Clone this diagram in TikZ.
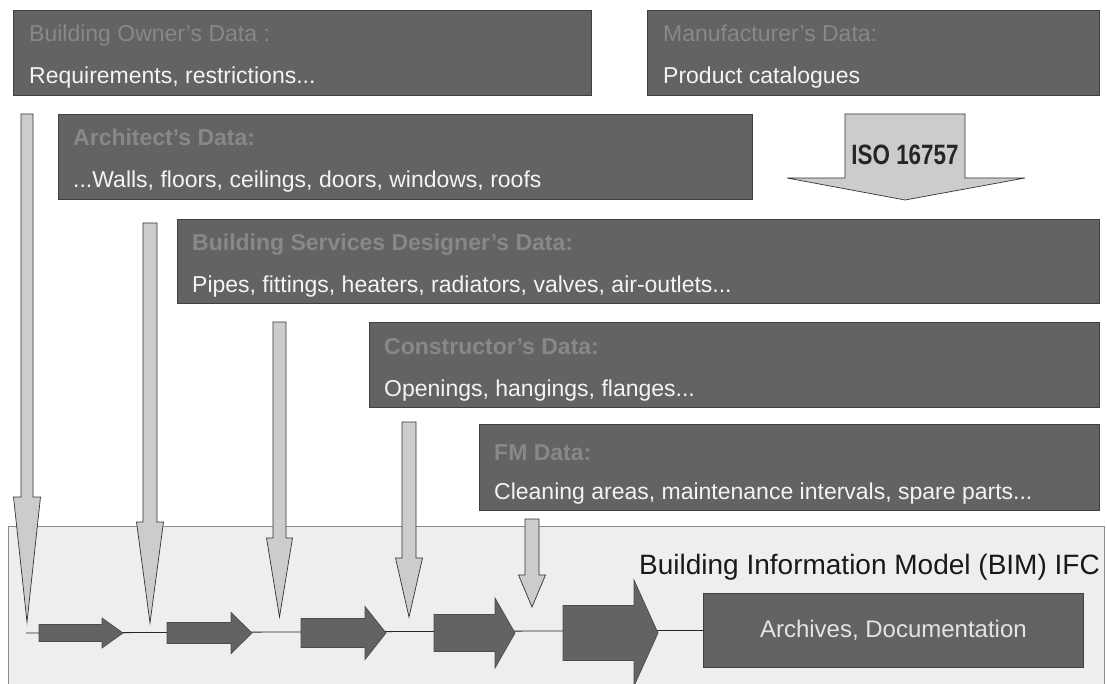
\documentclass[tikz,border=0pt]{standalone}
\usepackage{fontspec}
\setmainfont{Liberation Sans}
\usetikzlibrary{calc}
\definecolor{boxfill}{HTML}{636363}
\definecolor{titlegray}{HTML}{888888}
\definecolor{subwhite}{HTML}{F4F4F4}
\definecolor{arrfill}{HTML}{CCCCCC}
\definecolor{bimfill}{HTML}{EEEEEE}
\definecolor{archtext}{HTML}{E4E4E4}
\newcommand{\DnArr}[7]{% name, center x, shaft half, top, head base, head half, tip y
  \coordinate (#1s) at (#2,#4);
  \coordinate (#1t) at (#2,#7);
  \draw[downarr] ($(#1s)+(-#3,0)$) -- ($(#1s)+(#3,0)$) -- (#2+#3,#5) -- (#2+#6,#5) -- (#1t) -- (#2-#6,#5) -- (#2-#3,#5) -- cycle;}
\newcommand{\FlArr}[6]{% name, body left, body right, body half, head half, tip x
  \coordinate (#1t) at (#6,633);
  \draw[flowarr] (#2,633-#4) -- (#3,633-#4) -- (#3,633-#5) -- (#1t) -- (#3,633+#5) -- (#3,633+#4) -- (#2,633+#4) -- cycle;}
\begin{document}
\begin{tikzpicture}[x=1pt,y=-1pt,
  databox/.style={draw=black!75, fill=boxfill, line width=0.8pt, inner sep=0, anchor=north west},
  ttl/.style={anchor=base west, inner sep=0, text=titlegray, font=\fontsize{23}{27}\selectfont},
  sub/.style={anchor=base west, inner sep=0, text=subwhite, font=\fontsize{23}{27}\selectfont},
  downarr/.style={fill=arrfill, draw=black!80, line width=0.7pt, line join=miter},
  flowarr/.style={fill=boxfill, draw=black!70, line width=0.7pt, line join=miter},
  flowline/.style={draw=black!85, line width=0.8pt}]
\useasboundingbox (0,0) rectangle (1107,684);
% BIM area
\fill[bimfill] (8,526) rectangle (1104,690);
\draw[black!45, line width=0.8pt] (8,690) -- (8,526) -- (1104,526) -- (1104,690);
\node[anchor=base east, inner sep=0, text=black!90, font=\fontsize{28}{32}\selectfont] (bimlabel) at (1100,574) {Building Information Model (BIM) IFC};
% archives
\node[databox, minimum width=380pt, minimum height=74pt, text=archtext, font=\fontsize{24}{28}\selectfont] (archive) at (703,593) {Archives, Documentation};
% flow line and arrows
\coordinate (flowstart) at (26,633);
\draw[flowline] (flowstart) -- (archive.west);
\FlArr{fa}{39}{102}{8.5}{15}{123}
\FlArr{fb}{167}{231}{10.5}{20.5}{252}
\FlArr{fc}{301}{365}{14.5}{26.5}{386}
\FlArr{fd}{434}{495}{18.5}{35}{515}
\FlArr{fe}{563}{634}{27.5}{53}{658}
% data boxes
\node[databox, minimum width=578pt, minimum height=85pt] (owner) at (13,10) {};
\node[ttl] (ownerT) at ($(owner.north west)+(16,32)$) {Building Owner's Data :};
\node[sub] (ownerS) at ($(owner.north west)+(16,74)$) {Requirements, restrictions...};
\node[databox, minimum width=452pt, minimum height=85pt] (manu) at (647,10) {};
\node[ttl] (manuT) at ($(manu.north west)+(16,32)$) {Manufacturer's Data:};
\node[sub] (manuS) at ($(manu.north west)+(16,74)$) {Product catalogues};
\node[databox, minimum width=694pt, minimum height=85pt] (archi) at (58,114) {};
\node[ttl, font=\bfseries\fontsize{23}{27}\selectfont] (archiT) at ($(archi.north west)+(15,32)$) {Architect's Data:};
\node[sub] (archiS) at ($(archi.north west)+(15,74)$) {...Walls, floors, ceilings, doors, windows, roofs};
\node[databox, minimum width=922pt, minimum height=84pt] (serv) at (177,219) {};
\node[ttl, font=\bfseries\fontsize{23}{27}\selectfont] (servT) at ($(serv.north west)+(15,32)$) {Building Services Designer's Data:};
\node[sub] (servS) at ($(serv.north west)+(15,73)$) {Pipes, fittings, heaters, radiators, valves, air-outlets...};
\node[databox, minimum width=730pt, minimum height=85pt] (cons) at (369,322) {};
\node[ttl, font=\bfseries\fontsize{23}{27}\selectfont] (consT) at ($(cons.north west)+(15,32)$) {Constructor's Data:};
\node[sub] (consS) at ($(cons.north west)+(15,74)$) {Openings, hangings, flanges...};
\node[databox, minimum width=620pt, minimum height=86pt] (fm) at (479,424) {};
\node[ttl, font=\bfseries\fontsize{23}{27}\selectfont] (fmT) at ($(fm.north west)+(15,36)$) {FM Data:};
\node[sub] (fmS) at ($(fm.north west)+(15,75)$) {Cleaning areas, maintenance intervals, spare parts...};
% ISO arrow
\draw[downarr] (845,114) -- (965,114) -- (965,178) -- (1025,178) -- (905,200) -- (787,178) -- (845,178) -- cycle;
\node[inner sep=0, font=\bfseries\fontsize{28}{32}\selectfont, text=black!85] (iso) at (905,155) {\scalebox{0.8}[1]{ISO 16757}};
% down arrows
\DnArr{da}{27}{6}{114}{497}{13.5}{622}
\DnArr{db}{150}{7}{223}{522}{13.5}{623}
\DnArr{dc}{279.5}{6.5}{322}{538}{13}{617}
\DnArr{dd}{409}{7}{422}{558}{13.5}{617}
\DnArr{de}{532}{7}{519}{575}{13.5}{607}
\end{tikzpicture}
\end{document}
